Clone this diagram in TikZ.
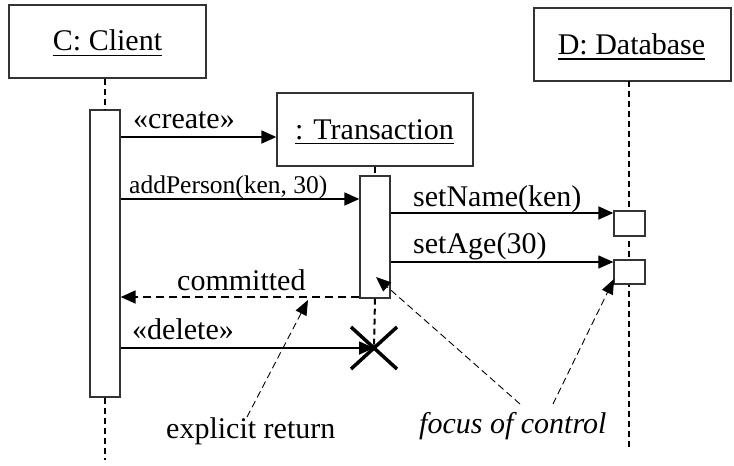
\documentclass[tikz,border=0pt]{standalone}
\usepackage{fontspec}
\setmainfont{Liberation Serif}
\usetikzlibrary{arrows.meta}
\begin{document}
\begin{tikzpicture}[x=1pt,y=-1pt,
  obj/.style={draw=black!80, line width=1.3pt, fill=white, inner sep=0pt},
  title/.style={font=\fontsize{30}{34}\selectfont, inner sep=0pt, anchor=base},
  uline/.style={line width=1.6pt},
  lifeline/.style={line width=2pt, dash pattern=on 6pt off 4pt},
  msg/.style={line width=1.8pt, -{Triangle[length=15pt,width=13pt]}},
  thinmsg/.style={line width=1.2pt, -{Triangle[length=15pt,width=13pt]}},
  ret/.style={line width=1.8pt, dash pattern=on 8pt off 5pt, -{Triangle[length=15pt,width=13pt]}},
  note/.style={line width=0.9pt, dash pattern=on 7pt off 4pt, -{Triangle[length=15pt,width=12pt]}},
  lbl/.style={font=\fontsize{30}{34}\selectfont, inner sep=0pt, anchor=base west},
  smalllbl/.style={font=\fontsize{25.5}{30}\selectfont, inner sep=0pt, anchor=base west},
  killmark/.style={line width=3.5pt},
]
\useasboundingbox (0,0) rectangle (734,466);

% object heads
\node[obj, minimum width=197pt, minimum height=73pt] (client) at (107.5,41.5) {};
\node[title] (ctitle) at (107.5,50) {C: Client};
\draw[uline] ([yshift=-5.5pt]ctitle.base west) -- ([yshift=-5.5pt]ctitle.base east);

\node[obj, minimum width=197pt, minimum height=73pt] (db) at (632.5,44.5) {};
\node[title] (dtitle) at (631.5,54) {D: Database};
\draw[uline] ([yshift=-5pt]dtitle.base west) -- ([yshift=-5pt]dtitle.base east);

% lifelines of client and database
\coordinate (cend) at (105,460);
\coordinate (dtop) at (629,81);
\coordinate (dend) at (629,447);
\draw[lifeline] (dtop) -- (dend);

% activations
\node[obj, minimum width=30pt, minimum height=287pt] (cact) at (105,253.5) {};
\draw[lifeline] (client.south -| cact) -- (cact.north);
\draw[lifeline] (cact.south) -- (cend);

\node[obj, minimum width=31pt, minimum height=25pt] (dact1) at (629.5,223.5) {};
\node[obj, minimum width=31pt, minimum height=24pt] (dact2) at (629.5,272) {};

% created object
\node[obj, minimum width=196pt, minimum height=73pt] (trans) at (375,129.5) {};
\node[title] (ttitle) at (374.5,139) {: Transaction};
\draw[uline] ([yshift=-4.5pt]ttitle.base west) -- ([yshift=-4.5pt]ttitle.base east);

\coordinate (kill) at (374,348);
\node[obj, minimum width=30pt, minimum height=122pt] (tact) at (375,237) {};
\draw[lifeline] (trans.south -| tact) -- (tact.north);
\draw[lifeline] (tact.south) -- (kill);

% destruction mark
\draw[killmark] ([shift={(-23pt,21pt)}]kill) -- ([shift={(23pt,-21pt)}]kill);
\draw[killmark] ([shift={(-23pt,-21pt)}]kill) -- ([shift={(23pt,21pt)}]kill);

% message rows
\coordinate (yCreate) at (0,137);
\coordinate (yAdd) at (0,199);
\coordinate (yName) at (0,213);
\coordinate (yAge) at (0,262);
\coordinate (yRet) at (0,297);
\coordinate (yDel) at (0,348);

\draw[msg] (cact.east |- yCreate) -- (trans.west |- yCreate);
\node[lbl] (lcreate) at (133,128) {«create»};

\draw[msg] (cact.east |- yAdd) -- (tact.west |- yAdd);
\node[smalllbl] (ladd) at (129,193) {addPerson(ken, 30)};

\draw[msg] (tact.east |- yName) -- (dact1.west |- yName);
\node[lbl] (lname) at (413,206) {setName(ken)};

\draw[thinmsg] (tact.east |- yAge) -- (dact2.west |- yAge);
\node[lbl] (lage) at (413,253) {setAge(30)};

\draw[ret] (tact.west |- yRet) -- (cact.east |- yRet);
\node[lbl] (lret) at (177,290) {committed};

\draw[msg] (cact.east |- yDel) -- (kill);
\node[lbl] (ldel) at (132,339) {«delete»};

% notes
\node[lbl] (nret) at (166,438) {explicit return};
\node[lbl, font=\fontsize{30}{34}\selectfont\itshape] (nfoc) at (419,433) {focus of control};

\coordinate (nretA) at (247,417);
\coordinate (nretB) at (308,300);
\draw[note] (nretA) -- (nretB);

\coordinate (nfocA) at (520,404);
\coordinate (nfocB) at (376,277);
\draw[note] (nfocA) -- (nfocB);

\coordinate (nfocC) at (553,404);
\coordinate (nfocD) at (614,279);
\draw[note] (nfocC) -- (nfocD);
\end{tikzpicture}
\end{document}
